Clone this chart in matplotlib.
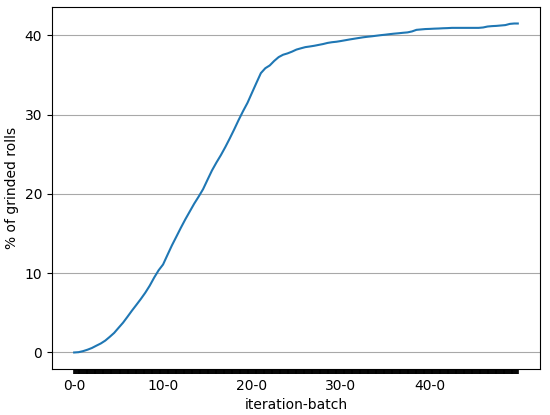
import matplotlib
matplotlib.use("Agg")
import matplotlib.pyplot as plt

# categories: iteration-batch (50 iterations x 10 batches)
iterations = list(range(50))
batches = list(range(10))
categories = [f"{i}-{b}" for i in iterations for b in batches]

# sampled points (every 5 batches, plus final batch)
sample_labels = [f"{i}-{b}" for i in iterations for b in (0, 5)] + ["49-9"]
values = [
    0.00, 0.04, 0.17, 0.35, 0.57, 0.86, 1.14, 1.50, 1.97, 2.47,
    3.12, 3.76, 4.51, 5.28, 6.01, 6.75, 7.54, 8.43, 9.45, 10.37,
    11.10, 12.32, 13.52, 14.62, 15.73, 16.79, 17.78, 18.77, 19.66, 20.60,
    21.79, 22.96, 23.96, 24.89, 25.91, 27.00, 28.14, 29.33, 30.45, 31.50,
    32.76, 34.01, 35.24, 35.86, 36.21, 36.78, 37.26, 37.56, 37.73, 37.95,
    38.21, 38.37, 38.52, 38.60, 38.69, 38.80, 38.91, 39.05, 39.14, 39.20,
    39.29, 39.39, 39.49, 39.58, 39.67, 39.76, 39.83, 39.89, 39.96, 40.03,
    40.09, 40.16, 40.22, 40.27, 40.33, 40.38, 40.50, 40.70, 40.75, 40.80,
    40.82, 40.85, 40.87, 40.90, 40.92, 40.95, 40.95, 40.95, 40.95, 40.95,
    40.95, 40.95, 41.00, 41.12, 41.17, 41.20, 41.25, 41.30, 41.45, 41.50,
    41.50,
]
shown_labels = ["0-0", "10-0", "20-0", "30-0", "40-0"]

fig = plt.figure(figsize=(5.5, 4.15), dpi=100)
ax = fig.add_axes([0.0945, 0.111, 0.8873, 0.872])

xpos = [categories.index(s) for s in sample_labels]
ax.plot(xpos, values, color="#1f77b4", linewidth=1.5)

ax.set_xticks(range(len(categories)))
ax.set_xticklabels([c if c in shown_labels else "" for c in categories])
ax.tick_params(axis="x", width=1.2)
ax.set_yticks([0, 10, 20, 30, 40])
ax.grid(axis="y", color="#a8a8a8", linewidth=0.8)
ax.set_axisbelow(True)
ax.set_xlabel("iteration-batch")
ax.set_ylabel("% of grinded rolls")

fig.savefig("out.png", dpi=100)
